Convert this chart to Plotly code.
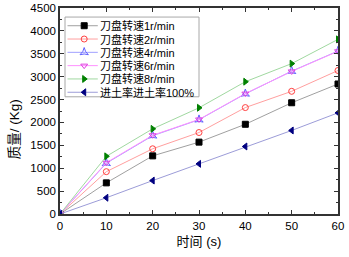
import plotly.graph_objects as go

time_s = [0, 10, 20, 30, 40, 50, 60]
names = ["刀盘转速1r/min", "刀盘转速2r/min", "刀盘转速4r/min",
         "刀盘转速6r/min", "刀盘转速8r/min", "进土率进土率100%"]
mass_1r = [0, 680, 1270, 1570, 1960, 2430, 2840]
mass_2r = [0, 925, 1425, 1780, 2325, 2680, 3135]
mass_4r = [0, 1110, 1710, 2060, 2625, 3120, 3560]
mass_6r = [0, 1120, 1720, 2065, 2630, 3115, 3555]
mass_8r = [0, 1260, 1860, 2320, 2890, 3285, 3815]
mass_100 = [0, 355, 730, 1095, 1475, 1825, 2210]

series = [mass_1r, mass_2r, mass_4r, mass_6r, mass_8r, mass_100]
line_colors = ["#a0a0a0", "#ff9f9f", "#a0a0ff", "#ff90ff", "#a0d8a0", "#9c9cd8"]
marker_colors = ["#000000", "#ff4040", "#6060ff", "#e040e0", "#008000", "#000080"]
symbols = ["square", "circle-open", "star-triangle-up-open", "triangle-down-open",
           "triangle-right", "triangle-left"]

fig = go.Figure()
for n, y, lc, mc, s in zip(names, series, line_colors, marker_colors, symbols):
    fig.add_trace(go.Scatter(
        x=time_s, y=y, name=n, mode="lines+markers", showlegend=False,
        line=dict(color=lc, width=1),
        marker=dict(symbol=s, size=6, color=mc, line=dict(color=mc, width=1)),
    ))

# Custom compact legend (drawn on a hidden overlay axis spanning the plot area 0..1)
leg_x0, leg_x1 = 0.027, 0.136
leg_xm = 0.087
leg_text_x = 0.141
leg_top_row = 0.914
leg_step = 0.0646
for i, (n, lc, mc, s) in enumerate(zip(names, line_colors, marker_colors, symbols)):
    yy = leg_top_row - i * leg_step
    fig.add_trace(go.Scatter(
        x=[leg_x0, leg_x1], y=[yy, yy], mode="lines", xaxis="x2", yaxis="y2",
        line=dict(color=lc, width=1), showlegend=False, hoverinfo="skip"))
    fig.add_trace(go.Scatter(
        x=[leg_xm], y=[yy], mode="markers", xaxis="x2", yaxis="y2",
        marker=dict(symbol=s, size=6, color=mc, line=dict(color=mc, width=1)),
        showlegend=False, hoverinfo="skip"))
    fig.add_annotation(x=leg_text_x, y=yy, xref="x2", yref="y2", text=n,
                       showarrow=False, xanchor="left", yanchor="middle",
                       borderpad=0,
                       font=dict(family="Liberation Sans, Noto Sans CJK SC", size=11, color="#000"))

fig.add_shape(type="rect", xref="x2", yref="y2", x0=0.018, x1=0.5, y0=0.569, y1=0.956,
              line=dict(color="#a8a8a8", width=1), fillcolor="rgba(0,0,0,0)", layer="below")

axis_common = dict(
    showline=True, linecolor="#333333", linewidth=1.5, mirror="allticks",
    ticks="inside", ticklen=4, tickcolor="#333333", showgrid=False, zeroline=False,
    automargin=False,
    tickfont=dict(family="Liberation Sans, Arial", size=11.5, color="#000000"),
)
fig.update_xaxes(range=[0, 60], dtick=10, tick0=0,
                 minor=dict(ticks="inside", dtick=5, ticklen=2, tickcolor="#333333"),
                 title=dict(text="时间 (s)", font=dict(family="Liberation Sans, Noto Sans CJK SC", size=13, color="#000"), standoff=6),
                 **axis_common)
fig.update_yaxes(range=[0, 4500], dtick=500, tick0=0,
                 minor=dict(ticks="inside", dtick=250, ticklen=2, tickcolor="#333333"),
                 **axis_common)
fig.update_layout(
    xaxis2=dict(range=[0, 1], overlaying="x", visible=False, fixedrange=True, domain=[0, 1]),
    yaxis2=dict(range=[0, 1], overlaying="y", visible=False, fixedrange=True, domain=[0, 1]),
)
fig.add_annotation(x=-0.163, y=0.41, xref="paper", yref="paper", text="质量/ (Kg)",
                   showarrow=False, textangle=-90, xanchor="center", yanchor="middle",
                   font=dict(family="Liberation Sans, Noto Sans CJK SC", size=13.5, color="#000"))
fig.update_layout(
    width=349, height=257,
    margin=dict(l=60, r=11, t=8, b=43),
    paper_bgcolor="white", plot_bgcolor="white",
    showlegend=False,
)
fig.write_html("out.html", config={"displayModeBar": False},
               post_script="document.body.style.margin='0';document.body.style.padding='0';")
